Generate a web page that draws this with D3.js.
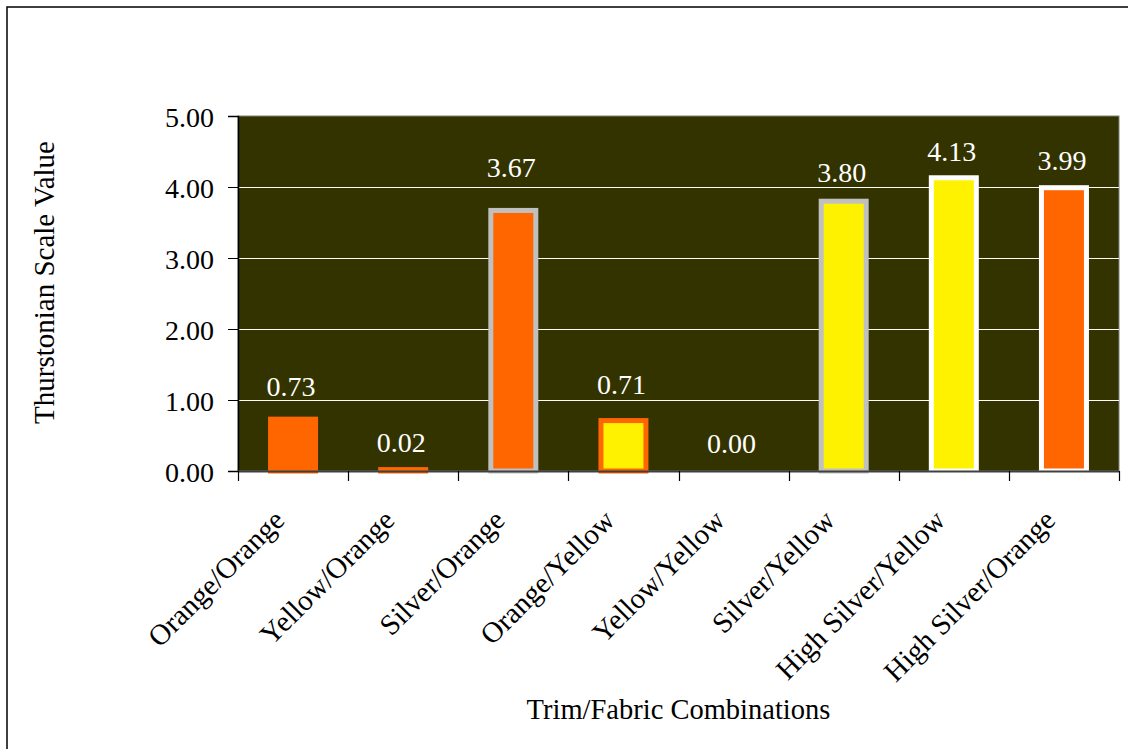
<!DOCTYPE html>
<html>
<head>
<meta charset="utf-8">
<script src="https://cdn.jsdelivr.net/npm/d3@7"></script>
<style>
  html, body { margin: 0; padding: 0; background: #ffffff; }
  svg { display: block; }
  svg text { font-family: "Liberation Serif", "Times New Roman", serif !important; }
</style>
</head>
<body>
<script>
// ---- data ----
const categories = ["Orange/Orange", "Yellow/Orange", "Silver/Orange", "Orange/Yellow",
                    "Yellow/Yellow", "Silver/Yellow", "High Silver/Yellow", "High Silver/Orange"];
const values = [0.73, 0.02, 3.67, 0.71, 0.00, 3.80, 4.13, 3.99];
const valueLabels = ["0.73", "0.02", "3.67", "0.71", "0.00", "3.80", "4.13", "3.99"];
const yTicks = [0, 1, 2, 3, 4, 5];
const yTickLabels = ["0.00", "1.00", "2.00", "3.00", "4.00", "5.00"];
const yTitle = "Thurstonian Scale Value";
const xTitle = "Trim/Fabric Combinations";

// ---- styles ----
const ORANGE = "#FF6600", YELLOW = "#FFF200", SILVER = "#C0C0C0", WHITE = "#FFFFFF";
const fills   = [ORANGE, ORANGE, ORANGE, YELLOW, YELLOW, YELLOW, YELLOW, ORANGE];
const strokes = [ORANGE, ORANGE, SILVER, ORANGE, "none", SILVER, WHITE, WHITE];
const labelGap = [23, 18, 33, 27, 18, 19, 17, 18];
const FONT = "'Liberation Serif', 'Times New Roman', serif";

const W = 1128, H = 749;
const plot = { left: 238, top: 116, right: 1119, bottom: 471 };

const svg = d3.select("body").append("svg").attr("width", W).attr("height", H)
  .style("font-family", FONT);

// outer frame
svg.append("rect").attr("x", 7).attr("y", 7).attr("width", W + 10).attr("height", H + 10)
  .attr("fill", "none").attr("stroke", "#000").attr("stroke-width", 1.5);

const x = d3.scaleBand().domain(categories).range([plot.left, plot.right]).paddingInner(0).paddingOuter(0);
const y = d3.scaleLinear().domain([0, 5]).range([plot.bottom, plot.top]);

// plot background
svg.append("rect").attr("x", plot.left).attr("y", plot.top)
  .attr("width", plot.right - plot.left).attr("height", plot.bottom - plot.top)
  .attr("fill", "#333300").attr("stroke", "#808080").attr("stroke-width", 1);

// gridlines
svg.append("g").selectAll("line").data(yTicks.filter(t => t > 0 && t < 5)).join("line")
  .attr("x1", plot.left).attr("x2", plot.right)
  .attr("y1", d => Math.round(y(d)) + 0.5).attr("y2", d => Math.round(y(d)) + 0.5)
  .attr("stroke", "#ffffff").attr("stroke-width", 1);

// bars
const barW = 45, sw = 5;
svg.append("g").selectAll("rect").data(values).join("rect")
  .attr("x", (d, i) => x(categories[i]) + x.bandwidth() / 2 - barW / 2)
  .attr("y", d => y(d))
  .attr("width", barW)
  .attr("height", d => y(0) - y(d))
  .attr("fill", (d, i) => fills[i])
  .attr("stroke", (d, i) => strokes[i])
  .attr("stroke-width", sw);

// y axis
const yAxis = d3.axisLeft(y).tickValues(yTicks).tickFormat((d, i) => yTickLabels[i])
  .tickSize(10).tickPadding(14);
const gy = svg.append("g").attr("transform", `translate(${plot.left},0)`).call(yAxis)
  .attr("font-family", null).attr("font-size", null);
gy.select(".domain").attr("stroke", "#000").attr("stroke-width", 1.5);
gy.selectAll(".tick line").attr("stroke", "#000");
gy.selectAll(".tick text").style("font-size", "28px").style("font-family", FONT)
  .attr("fill", "#000").attr("dy", "0.36em");

// x axis
const xTickPos = categories.map(c => x(c)).concat([plot.right]);
const gx = svg.append("g");
gx.append("line").attr("x1", plot.left).attr("x2", plot.right)
  .attr("y1", plot.bottom + 0.5).attr("y2", plot.bottom + 0.5)
  .attr("stroke", "#404040").attr("stroke-width", 2);
gx.selectAll("line.tk").data(xTickPos).join("line").attr("class", "tk")
  .attr("x1", d => Math.round(d) + 0.5).attr("x2", d => Math.round(d) + 0.5)
  .attr("y1", plot.bottom).attr("y2", plot.bottom + 10)
  .attr("stroke", "#000").attr("stroke-width", 1.2);
gx.selectAll("text").data(categories).join("text")
  .attr("transform", d => `translate(${x(d) + x.bandwidth() / 2 - 7},${plot.bottom + 51}) rotate(-45)`)
  .attr("text-anchor", "end").style("font-size", "29px").style("font-family", FONT).attr("fill", "#000")
  .text(d => d);

// value labels
svg.append("g").selectAll("text").data(values).join("text")
  .attr("x", (d, i) => x(categories[i]) + x.bandwidth() / 2 - 2)
  .attr("y", (d, i) => y(d) - labelGap[i])
  .attr("text-anchor", "middle").style("font-size", "28px").style("font-family", FONT).attr("fill", "#ffffff")
  .text((d, i) => valueLabels[i]);

// axis titles
svg.append("text").attr("transform", `translate(54,${(plot.top + plot.bottom) / 2 - 11}) rotate(-90)`)
  .attr("text-anchor", "middle").style("font-size", "29px").style("font-family", FONT).attr("fill", "#000").text(yTitle);
svg.append("text").attr("x", (plot.left + plot.right) / 2).attr("y", 719)
  .attr("text-anchor", "middle").style("font-size", "28.5px").style("font-family", FONT).attr("fill", "#000").text(xTitle);
</script>
</body>
</html>
